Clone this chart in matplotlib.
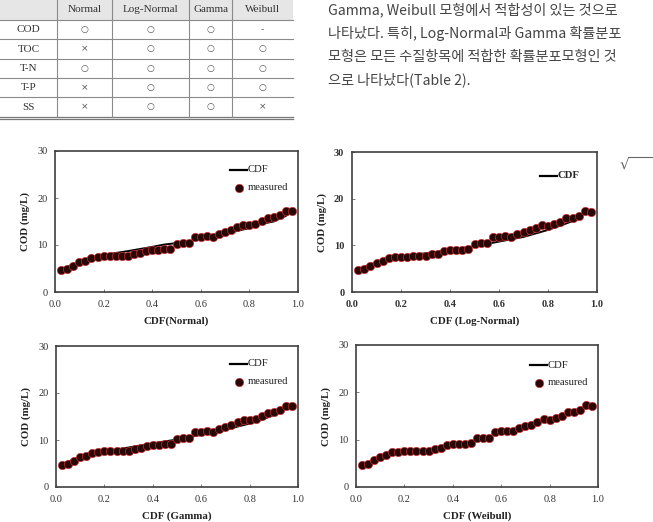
import matplotlib
matplotlib.use("Agg")
import matplotlib.pyplot as plt

# ---------------- data ----------------
table_cols = ["Normal", "Log-Normal", "Gamma", "Weibull"]
table_rows = ["COD", "TOC", "T-N", "T-P", "SS"]
table_vals = [
    ["○", "○", "○", "-"],
    ["×", "○", "○", "○"],
    ["○", "○", "○", "○"],
    ["×", "○", "○", "○"],
    ["×", "○", "○", "×"],
]

para_lines = [
    "Gamma, Weibull 모형에서 적합성이 있는 것으로",
    "나타났다. 특히, Log-Normal과 Gamma 확률분포",
    "모형은 모든 수질항목에 적합한 확률분포모형인 것",
    "으로 나타났다(Table 2).",
]

# plotting positions of measured COD
cdf_x = [i / 40 for i in range(1, 40)]
cod_measured = [4.75, 4.9, 5.6, 6.3, 6.7, 7.3, 7.4, 7.6, 7.6, 7.7,
                7.7, 7.7, 8.1, 8.2, 8.8, 9.0, 9.0, 9.1, 9.2, 10.3,
                10.4, 10.4, 11.7, 11.8, 11.9, 11.8, 12.4, 12.8, 13.2, 13.8,
                14.3, 14.2, 14.5, 15.1, 15.8, 15.9, 16.3, 17.3, 17.2]

# fitted CDF curves
normal_x = [0.025, 0.1, 0.2, 0.3, 0.4, 0.45, 0.5, 0.55, 0.6, 0.7, 0.8, 0.85, 0.9, 0.95, 0.975]
normal_y = [4.9, 6.3, 7.9, 8.7, 9.6, 10.1, 10.4, 10.8, 11.3, 12.4, 13.6, 14.5, 15.0, 16.2, 17.0]
lognorm_x = [0.025, 0.1, 0.2, 0.3, 0.4, 0.5, 0.55, 0.6, 0.7, 0.8, 0.85, 0.9, 0.95, 0.975]
lognorm_y = [4.9, 6.4, 7.6, 8.3, 9.0, 9.8, 10.3, 10.8, 11.8, 13.3, 14.2, 15.2, 16.8, 17.6]
gamma_x = [0.025, 0.1, 0.2, 0.3, 0.4, 0.45, 0.5, 0.55, 0.6, 0.7, 0.8, 0.85, 0.9, 0.95, 0.975]
gamma_y = [4.9, 6.4, 7.6, 8.4, 9.3, 9.7, 10.1, 10.6, 11.1, 12.2, 13.5, 14.3, 15.3, 16.8, 17.5]

x_ticks = [0.0, 0.2, 0.4, 0.6, 0.8, 1.0]
y_ticks = [0, 10, 20, 30]
y_label = "COD (mg/L)"

W, H = 653, 522
fig = plt.figure(figsize=(W / 100, H / 100), dpi=100)

# --------- background axes in pixel coords for table / text ----------
bg = fig.add_axes([0, 0, 1, 1])
bg.set_xlim(0, W)
bg.set_ylim(H, 0)
bg.axis("off")

serif = ["Liberation Serif", "DejaVu Sans"]
col_edges = [0, 57, 112, 189, 232, 293]
row_edges = [0, 20, 39, 59, 78, 97, 117]
bg.fill_between([0, 293], 0, 20, color="#e6e6e6", lw=0)
for y in row_edges[1:-1]:
    bg.plot([0, 293], [y, y], color="#8a8a8a", lw=0.8)
bg.plot([0, 293], [116.5, 116.5], color="#777777", lw=0.9)
bg.plot([0, 293], [119, 119], color="#777777", lw=0.9)
for x in col_edges[1:-1]:
    bg.plot([x, x], [0, 117], color="#8a8a8a", lw=0.8)

for j, c in enumerate(table_cols):
    xc = (col_edges[j + 1] + col_edges[j + 2]) / 2
    bg.text(xc, 10, c, ha="center", va="center", fontsize=8, color="#333333", family=serif)
for i, r in enumerate(table_rows):
    yc = (row_edges[i + 1] + row_edges[i + 2]) / 2
    bg.text((col_edges[0] + col_edges[1]) / 2, yc, r, ha="center", va="center",
            fontsize=8, color="#333333", family=serif)
    for j, v in enumerate(table_vals[i]):
        xc = (col_edges[j + 1] + col_edges[j + 2]) / 2
        bg.text(xc, yc, v, ha="center", va="center", fontsize=6.5, color="#555555",
                family=["DejaVu Sans"])

for k, line in enumerate(para_lines):
    bg.text(328, 10 + k * 23.3, line, ha="left", va="center", fontsize=10.2, color="#444444",
            family=["Noto Sans CJK KR", "DejaVu Sans"])

bg.text(624, 164, "√", ha="center", va="center", fontsize=11, color="#666666",
        family=["DejaVu Sans"])
bg.plot([628, 653], [157, 157], color="#666666", lw=0.8)

# --------------- panels ----------------
def px_axes(left, top, right, bottom):
    return fig.add_axes([left / W, 1 - bottom / H, (right - left) / W, (bottom - top) / H])

panels = [
    dict(rect=(55, 151, 298, 292), xlabel="CDF(Normal)", lx=normal_x, ly=normal_y,
         bold=False, measured_label=True, leg=(230, 170)),
    dict(rect=(352, 152, 597, 292), xlabel="CDF (Log-Normal)", lx=lognorm_x, ly=lognorm_y,
         bold=True, measured_label=False, leg=(540, 176)),
    dict(rect=(56, 346, 298, 487), xlabel="CDF (Gamma)", lx=gamma_x, ly=gamma_y,
         bold=False, measured_label=True, leg=(230, 364)),
    dict(rect=(356, 345, 598, 487), xlabel="CDF (Weibull)", lx=None, ly=None,
         bold=False, measured_label=True, leg=(530, 365)),
]

mface = "#2a0707"
medge = "#d03030"

for p in panels:
    l, t, r, b = p["rect"]
    ax = px_axes(l, t, r, b)
    ax.patch.set_alpha(0)
    ax.set_xlim(0, 1)
    ax.set_ylim(0, 30)
    if p["lx"] is not None:
        ax.plot(p["lx"], p["ly"], color="black", lw=1.4, zorder=2)
    ax.plot(cdf_x, cod_measured, ls="none", marker="o", ms=6, mfc=mface, mec=medge,
            mew=0.45, zorder=3)
    ax.set_xticks(x_ticks)
    ax.set_yticks(y_ticks)
    fw = "bold" if p["bold"] else "normal"
    ax.set_xticklabels([f"{v:.1f}" for v in x_ticks], family=serif, fontsize=7.5,
                       color="#333333", fontweight=fw)
    ax.set_yticklabels([str(v) for v in y_ticks], family=serif, fontsize=7.5,
                       color="#333333", fontweight=fw)
    ax.tick_params(direction="in", length=2.5, width=0.6, color="#666666", pad=5.5)
    for s in ax.spines.values():
        s.set_color("#404040")
        s.set_linewidth(1.2)
    ax.set_xlabel(p["xlabel"], family=serif, fontsize=7.8, fontweight="bold", color="#222222")
    ax.set_ylabel(y_label, family=serif, fontsize=7.8, fontweight="bold", color="#222222")
    ax.xaxis.set_label_coords(0.5, -24 / (b - t))
    ax.yaxis.set_label_coords(-25 / (r - l), 0.5)

    # legend drawn in pixel space
    lx0, ly0 = p["leg"]
    bg.plot([lx0, lx0 + 17], [ly0, ly0], color="black", lw=1.6, zorder=5)
    bg.text(lx0 + 18, ly0, "CDF", ha="left", va="center", fontsize=7.7, family=serif,
            color="#222222", fontweight="bold" if p["bold"] else "normal", zorder=5)
    if p["measured_label"]:
        bg.plot([lx0 + 8.5], [ly0 + 17.5], ls="none", marker="o", ms=6, mfc=mface,
                mec=medge, mew=0.45, zorder=5)
        bg.text(lx0 + 18, ly0 + 17.5, "measured", ha="left", va="center", fontsize=7.7,
                family=serif, color="#222222", zorder=5)

fig.savefig("out.png", dpi=100)
